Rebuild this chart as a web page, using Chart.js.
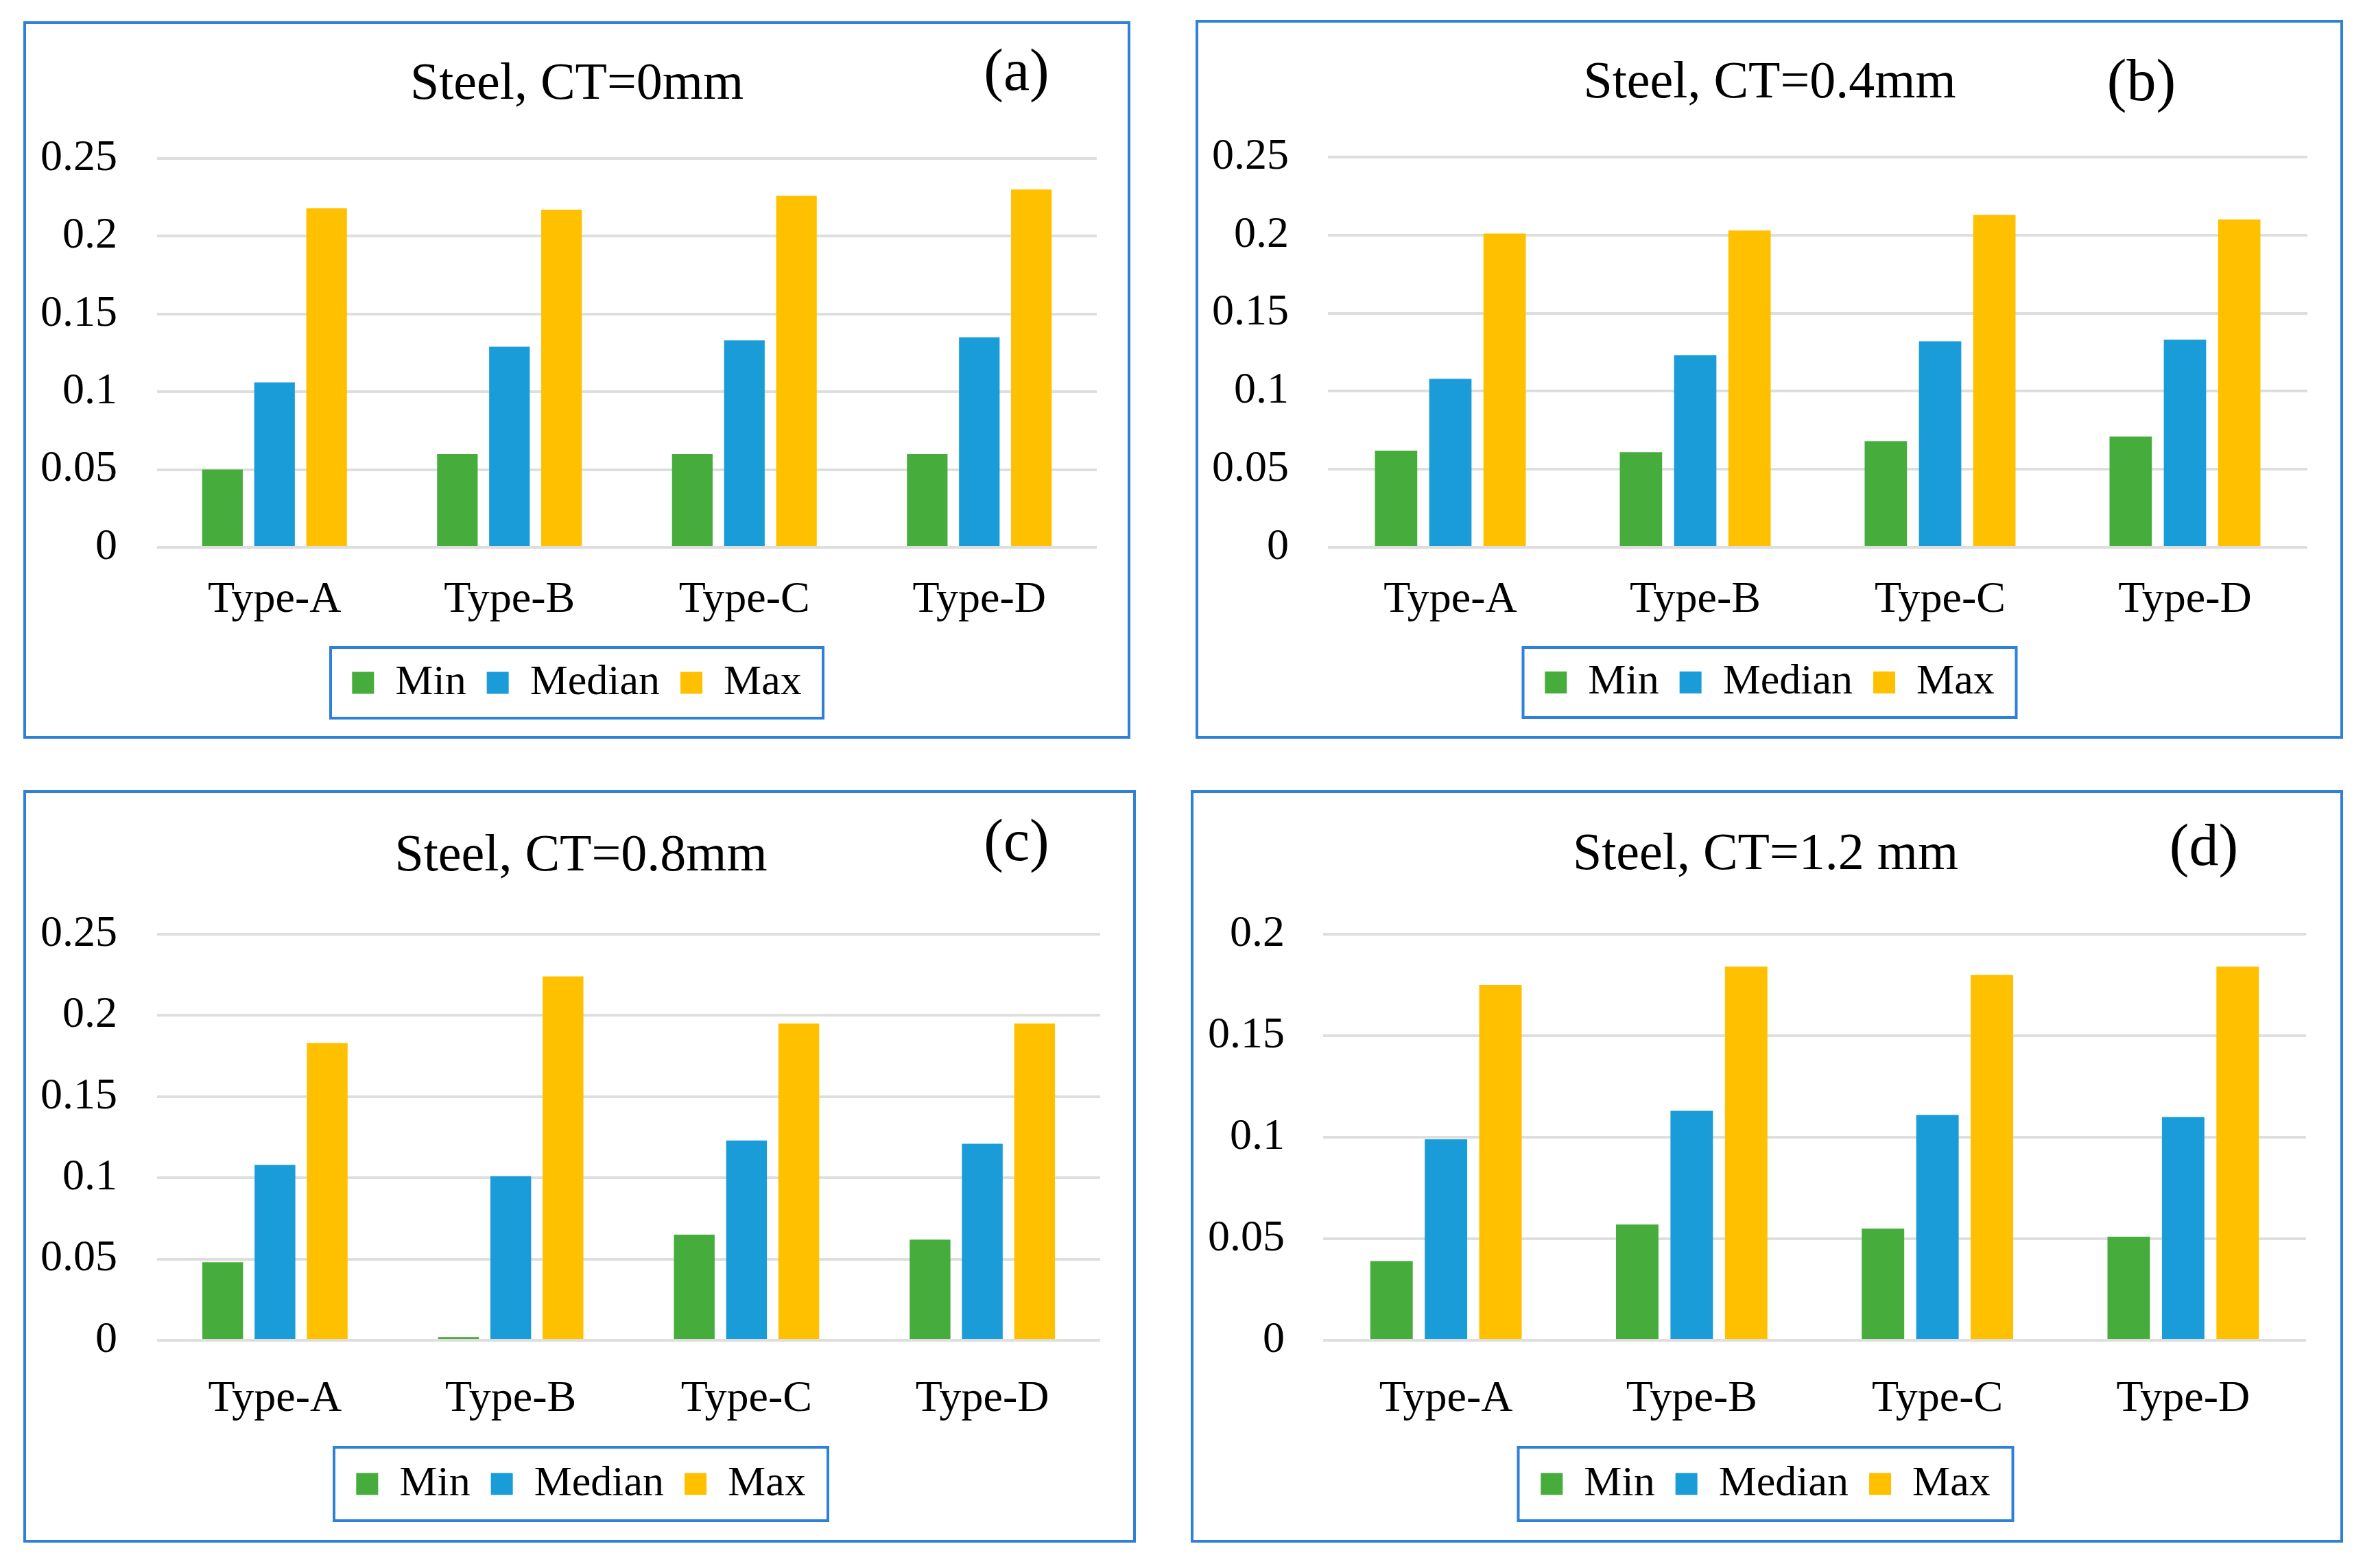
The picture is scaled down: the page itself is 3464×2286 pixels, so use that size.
<!DOCTYPE html>
<html><head><meta charset="utf-8">
<script src="https://cdn.jsdelivr.net/npm/chart.js@4.4.1/dist/chart.umd.min.js"></script>
<style>
html,body{margin:0;padding:0;background:#fff;width:3464px;height:2286px;overflow:hidden;}
.panel{position:absolute;box-sizing:border-box;border:4px solid #2f80d8;background:#fff;}
.panel canvas{position:absolute;left:0;top:0;}
</style></head><body>
<div id="pa" class="panel"><canvas id="ca"></canvas></div>
<div id="pb" class="panel"><canvas id="cb"></canvas></div>
<div id="pc" class="panel"><canvas id="cc"></canvas></div>
<div id="pd" class="panel"><canvas id="cd"></canvas></div>
<script>
// ---------- data ----------
const categories = ['Type-A', 'Type-B', 'Type-C', 'Type-D'];
const seriesNames = ['Min', 'Median', 'Max'];
const titles = ['Steel, CT=0mm', 'Steel, CT=0.4mm', 'Steel, CT=0.8mm', 'Steel, CT=1.2 mm'];
const tags = ['(a)', '(b)', '(c)', '(d)'];

const minA = [0.050, 0.060, 0.060, 0.060];
const medianA = [0.106, 0.129, 0.133, 0.135];
const maxA = [0.218, 0.217, 0.226, 0.230];

const minB = [0.062, 0.061, 0.068, 0.071];
const medianB = [0.108, 0.123, 0.132, 0.133];
const maxB = [0.201, 0.203, 0.213, 0.210];

const minC = [0.048, 0.002, 0.065, 0.062];
const medianC = [0.108, 0.101, 0.123, 0.121];
const maxC = [0.183, 0.224, 0.195, 0.195];

const minD = [0.039, 0.057, 0.055, 0.051];
const medianD = [0.099, 0.113, 0.111, 0.110];
const maxD = [0.175, 0.184, 0.180, 0.184];

const yTicks025 = [0, 0.05, 0.1, 0.15, 0.2, 0.25];
const yTickLabels025 = ['0', '0.05', '0.1', '0.15', '0.2', '0.25'];
const yTicks020 = [0, 0.05, 0.1, 0.15, 0.2];
const yTickLabels020 = ['0', '0.05', '0.1', '0.15', '0.2'];

// ---------- style ----------
const colors = ['#46ad3c', '#1a9cd8', '#ffc000'];
const BLUE = '#2f80d8';
const FONT = '"Liberation Serif", "Times New Roman", serif';
Chart.defaults.font.family = FONT;
Chart.defaults.color = '#000';

// ---------- layout (pixels) ----------
const layouts = [
  {id:'a', L:36, T:33, R:1646, B:1075, padL:45, padR:45, padB:36.5, yW:146, yPad:58, tTop:43.4, tBot:61.4, xH:136.5, xPad:38.6, tagX:1444, tagY:73, boxW:718, boxH:103},
  {id:'b', L:1745, T:31, R:3414, B:1075, padL:49, padR:48, padB:37, yW:140, yPad:57, tTop:43.4, tBot:61.4, xH:136, xPad:38.6, tagX:1375, tagY:90, boxW:719, boxH:102},
  {id:'c', L:36, T:1154, R:1654, B:2247, padL:52, padR:48, padB:40.5, yW:139, yPad:58, tTop:47.4, tBot:67.4, xH:148.5, xPad:47.6, tagX:1444, tagY:75, boxW:720, boxH:107},
  {id:'d', L:1738, T:1154, R:3414, B:2247, padL:46, padR:50, padB:40.5, yW:143, yPad:56, tTop:45.4, tBot:69.4, xH:148.5, xPad:47.6, tagX:1473, tagY:82, boxW:721, boxH:107}
];

const panelSeries = [
  [minA, medianA, maxA],
  [minB, medianB, maxB],
  [minC, medianC, maxC],
  [minD, medianD, maxD]
];
const panelTicks = [
  [yTicks025, yTickLabels025],
  [yTicks025, yTickLabels025],
  [yTicks025, yTickLabels025],
  [yTicks020, yTickLabels020]
];

const decor = {
  id: 'decor',
  afterLayout(chart) {
    // let the y tick labels use the room left of the axis box (avoid clipping)
    const y = chart.scales.y;
    y.width = y.right;
    y.left = 0;
  },
  afterDraw(chart, args, opts) {
    const ctx = chart.ctx;
    const hb = chart.legend.legendHitBoxes;
    if (hb && hb.length) {
      const l = hb[0].left, r = hb[hb.length - 1].left + hb[hb.length - 1].width;
      const cx = (l + r) / 2, cy = hb[0].top + hb[0].height / 2;
      ctx.save();
      ctx.strokeStyle = BLUE;
      ctx.lineWidth = 4;
      ctx.strokeRect(cx - opts.boxW / 2, cy - opts.boxH / 2, opts.boxW, opts.boxH);
      ctx.restore();
    }
    ctx.save();
    ctx.font = '86px ' + FONT;
    ctx.fillStyle = '#000';
    ctx.textAlign = 'center';
    ctx.textBaseline = 'middle';
    ctx.fillText(opts.tag, opts.tagX, opts.tagY);
    ctx.restore();
  }
};

layouts.forEach((lay, i) => {
  const div = document.getElementById('p' + lay.id);
  div.style.left = (lay.L - 2) + 'px';
  div.style.top = (lay.T - 2) + 'px';
  div.style.width = (lay.R - lay.L + 4) + 'px';
  div.style.height = (lay.B - lay.T + 4) + 'px';
  const W = lay.R - lay.L - 4, H = lay.B - lay.T - 4;
  const cv = document.getElementById('c' + lay.id);
  cv.width = W; cv.height = H;
  cv.style.width = W + 'px'; cv.style.height = H + 'px';
  const [ticks, tickLabels] = panelTicks[i];
  new Chart(cv, {
    type: 'bar',
    data: {
      labels: categories,
      datasets: seriesNames.map((name, k) => ({
        label: name,
        data: panelSeries[i][k],
        backgroundColor: colors[k],
        borderWidth: 0,
        categoryPercentage: 0.665,
        barPercentage: 0.78
      }))
    },
    options: {
      responsive: false,
      animation: false,
      devicePixelRatio: 1,
      layout: { padding: { left: lay.padL, right: lay.padR, top: 0, bottom: lay.padB } },
      plugins: {
        title: {
          display: true,
          text: titles[i],
          color: '#000',
          font: { size: 76, weight: 'normal', family: FONT },
          padding: { top: lay.tTop, bottom: lay.tBot }
        },
        legend: {
          position: 'bottom',
          labels: {
            font: { size: 62, family: FONT },
            color: '#000',
            boxWidth: 32,
            boxHeight: 32,
            padding: 30
          }
        },
        tooltip: { enabled: false },
        decor: { tag: tags[i], tagX: lay.tagX, tagY: lay.tagY, boxW: lay.boxW, boxH: lay.boxH }
      },
      scales: {
        x: {
          grid: { display: false, drawTicks: false },
          border: { display: false },
          ticks: { font: { size: 64, family: FONT }, color: '#000', padding: lay.xPad, maxRotation: 0 },
          afterFit: s => { s.height = lay.xH; }
        },
        y: {
          min: 0,
          max: ticks[ticks.length - 1],
          grid: { color: '#dedede', lineWidth: 4, drawTicks: false },
          border: { display: false },
          ticks: {
            font: { size: 64, family: FONT },
            color: '#000',
            padding: lay.yPad,
            callback: (v, idx) => tickLabels[idx]
          },
          afterBuildTicks: s => { s.ticks = ticks.map(v => ({ value: v })); },
          afterFit: s => { s.width = lay.yW; }
        }
      }
    },
    plugins: [decor]
  });
});
</script>
</body></html>
